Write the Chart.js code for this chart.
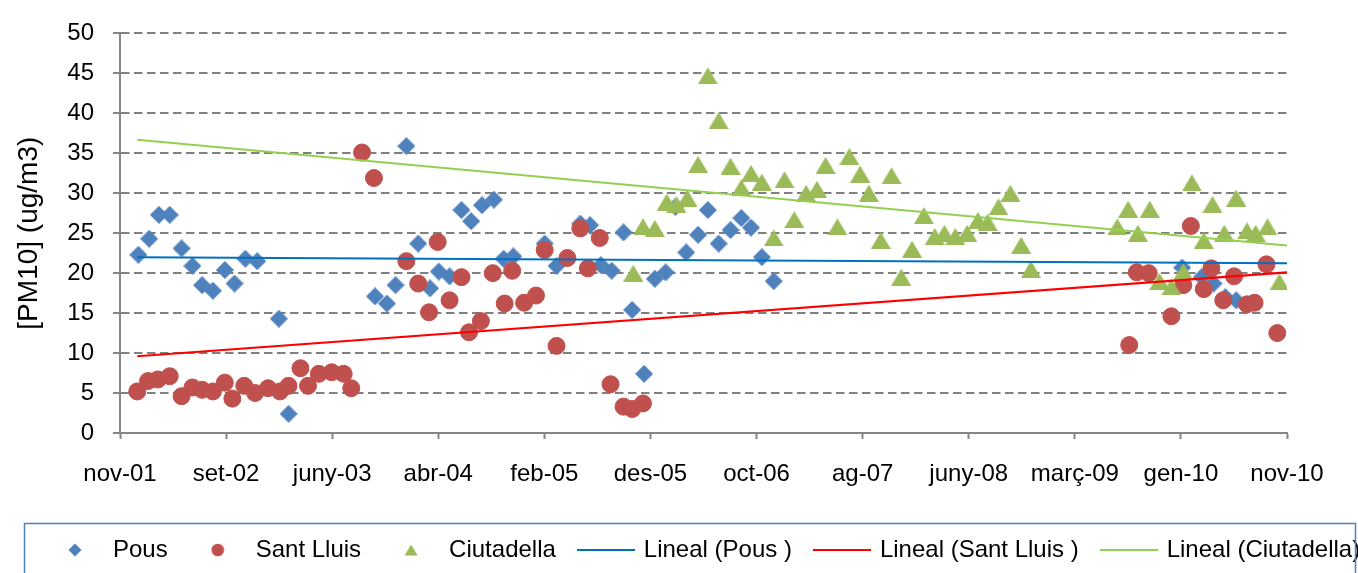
<!DOCTYPE html>
<html>
<head>
<meta charset="utf-8">
<script src="https://cdn.jsdelivr.net/npm/chart.js@4/dist/chart.umd.min.js"></script>
<style>
html,body{margin:0;padding:0;background:#fff;}
canvas{display:block;}
</style>
</head>
<body>
<canvas id="c" width="1358" height="573"></canvas>
<script>
// x values: months since nov-01 (axis runs nov-01 .. nov-10 = 108 months)
const tickLabels = ['nov-01','set-02','juny-03','abr-04','feb-05','des-05','oct-06','ag-07','juny-08','març-09','gen-10','nov-10'];

const pousX = [1.7,2.7,3.6,4.6,5.7,6.7,7.6,8.6,9.7,10.6,11.6,12.7,14.7,15.6,23.6,24.7,25.5,26.5,27.6,28.7,29.5,30.5,31.6,32.5,33.5,34.6,35.5,36.4,39.3,40.4,42.6,43.5,44.5,45.5,46.6,47.4,48.5,49.5,50.5,51.4,52.4,53.5,54.4,55.4,56.5,57.5,58.4,59.4,60.5,98.3,100.1,101.2,102.3,103.3];
const pousY = [22.3,24.3,27.3,27.3,23.1,20.9,18.5,17.8,20.4,18.7,21.8,21.5,14.3,2.4,17.1,16.2,18.5,35.9,23.7,18.1,20.2,19.6,27.9,26.5,28.5,29.2,21.8,22.1,23.7,20.9,26.2,26.0,21.0,20.3,25.1,15.4,7.4,19.3,20.1,28.3,22.6,24.8,27.9,23.7,25.4,26.9,25.7,22.0,19.0,20.7,19.5,18.7,17.0,16.6];

const santX = [1.6,2.6,3.5,4.6,5.7,6.7,7.6,8.6,9.7,10.4,11.5,12.5,13.7,14.8,15.6,16.7,17.4,18.4,19.6,20.7,21.4,22.4,23.5,26.5,27.6,28.6,29.4,30.5,31.6,32.3,33.4,34.5,35.6,36.3,37.4,38.5,39.3,40.4,41.4,42.6,43.3,44.4,45.4,46.6,47.4,48.4,93.4,94.1,95.2,97.3,98.4,99.1,100.3,101.0,102.1,103.1,104.3,105.0,106.1,107.1];
const santY = [5.2,6.5,6.7,7.1,4.6,5.7,5.4,5.2,6.3,4.3,5.9,5.0,5.6,5.2,5.9,8.1,5.9,7.4,7.6,7.4,5.6,35.1,31.9,21.5,18.7,15.1,23.9,16.6,19.5,12.6,14.0,20.0,16.2,20.3,16.3,17.2,22.9,10.9,21.9,25.6,20.6,24.4,6.1,3.3,3.0,3.7,11.0,20.1,20.0,14.6,18.5,25.9,18.0,20.6,16.6,19.6,16.1,16.3,21.1,12.5];

const ciutX = [47.5,48.4,49.5,50.6,51.5,52.5,53.5,54.4,55.4,56.5,57.5,58.4,59.4,60.5,61.5,62.4,63.5,64.5,65.3,66.4,67.5,68.5,69.3,70.4,71.4,72.3,73.3,74.4,75.4,76.3,77.3,78.4,79.4,80.3,81.3,82.4,83.4,84.3,92.3,93.3,94.2,95.3,96.2,97.3,98.4,99.2,100.3,101.1,102.2,103.3,104.3,105.1,106.2,107.3];
const ciutY = [20.0,25.8,25.6,28.9,28.6,29.4,33.6,44.7,39.1,33.4,30.7,32.5,31.4,24.4,31.7,26.7,30.0,30.5,33.5,25.8,34.6,32.4,30.0,24.1,32.2,19.5,23.0,27.2,24.6,25.0,24.6,25.0,26.6,26.4,28.3,30.0,23.5,20.5,25.8,28.0,25.0,28.0,19.0,18.3,20.2,31.3,24.1,28.6,25.0,29.4,25.3,25.0,25.8,18.9];

// linear trend lines (start / end)
const trendX = [1.6, 108];
const pousTrend = [22.0, 21.25];
const santTrend = [9.6, 20.1];
const ciutTrend = [36.7, 23.45];

const seriesNames = ['Pous','Sant Lluis','Ciutadella','Lineal (Pous )','Lineal (Sant Lluis )','Lineal (Ciutadella)'];

const C_POUS = '#4F81BD', C_SANT = '#C0504D', C_CIUT = '#9BBB59';
const C_TP = '#0070C0', C_TS = '#FF0000', C_TC = '#92D050';

function icon(w, h, draw) {
  const c = document.createElement('canvas');
  c.width = w; c.height = h;
  draw(c.getContext('2d'), w, h);
  return c;
}
const diaMarker = icon(18, 18, g => {
  g.fillStyle = C_POUS; g.beginPath();
  g.moveTo(9, 0); g.lineTo(18, 9); g.lineTo(9, 18); g.lineTo(0, 9); g.closePath(); g.fill();
});
const triMarker = icon(20, 17, g => {
  g.fillStyle = C_CIUT; g.beginPath();
  g.moveTo(10, 0); g.lineTo(20, 17); g.lineTo(0, 17); g.closePath(); g.fill();
});
const legendIcons = [
  icon(14, 14, g => { g.fillStyle = C_POUS; g.beginPath(); g.moveTo(7,0.5); g.lineTo(13.5,7); g.lineTo(7,13.5); g.lineTo(0.5,7); g.closePath(); g.fill(); }),
  icon(14, 14, g => { g.fillStyle = C_SANT; g.beginPath(); g.arc(7,7,6.3,0,Math.PI*2); g.fill(); }),
  icon(14, 12, g => { g.fillStyle = C_CIUT; g.beginPath(); g.moveTo(7,0.5); g.lineTo(13.5,11.5); g.lineTo(0.5,11.5); g.closePath(); g.fill(); }),
  icon(58, 4, g => { g.fillStyle = C_TP; g.fillRect(0,1,58,2); }),
  icon(58, 4, g => { g.fillStyle = C_TS; g.fillRect(0,1,58,2); }),
  icon(58, 4, g => { g.fillStyle = C_TC; g.fillRect(0,1,58,2); })
];

const pts = (xs, ys) => xs.map((x, i) => ({x: x, y: ys[i]}));

Chart.defaults.font.family = "'Liberation Sans', Arial, sans-serif";
Chart.defaults.color = '#000';

const legendFrame = {
  id: 'legendFrame',
  beforeLayout(chart) {
    const l = chart.legend;
    if (l && !l.__patched) {
      const f = l.fit;
      l.fit = function () { f.call(this); this.height = 58; };
      l.__patched = true;
    }
  },
  afterLayout(chart) {
    const l = chart.legend;
    if (l) { l.left = 25; l.right = 1420; l.width = l.right - l.left; }
  },
  afterDraw(chart) {
    const ctx = chart.ctx;
    ctx.save();
    ctx.strokeStyle = '#4F81BD';
    ctx.lineWidth = 1.5;
    ctx.strokeRect(24.5, 523.5, 1331, 60);
    ctx.restore();
  }
};

new Chart(document.getElementById('c'), {
  type: 'scatter',
  data: {
    datasets: [
      {label: seriesNames[0], data: pts(pousX, pousY), pointStyle: diaMarker, pointRadius: 9, backgroundColor: C_POUS, borderColor: C_POUS, order: 6},
      {label: seriesNames[1], data: pts(santX, santY), pointStyle: 'circle', pointRadius: 8.5, backgroundColor: C_SANT, borderColor: C_SANT, borderWidth: 1, order: 5},
      {label: seriesNames[2], data: pts(ciutX, ciutY), pointStyle: triMarker, pointRadius: 10, backgroundColor: C_CIUT, borderColor: C_CIUT, order: 4},
      {label: seriesNames[3], data: pts(trendX, pousTrend), showLine: true, pointRadius: 0, borderColor: C_TP, borderWidth: 2, order: 3},
      {label: seriesNames[4], data: pts(trendX, santTrend), showLine: true, pointRadius: 0, borderColor: C_TS, borderWidth: 2.2, order: 2},
      {label: seriesNames[5], data: pts(trendX, ciutTrend), showLine: true, pointRadius: 0, borderColor: C_TC, borderWidth: 2, order: 1}
    ]
  },
  options: {
    responsive: false,
    animation: false,
    events: [],
    layout: {padding: {top: 23, left: 0, right: 0, bottom: 1}},
    plugins: {
      tooltip: {enabled: false},
      legend: {
        position: 'bottom',
        align: 'start',
        labels: {
          usePointStyle: true,
          pointStyleWidth: 52,
          padding: 24,
          color: '#000',
          font: {size: 24},
          generateLabels: chart => chart.data.datasets.map((ds, i) => ({
            text: ds.label, datasetIndex: i, pointStyle: legendIcons[i],
            fillStyle: 'transparent', strokeStyle: 'transparent', lineWidth: 0, hidden: false, fontColor: '#000'
          }))
        }
      }
    },
    scales: {
      x: {
        type: 'linear', min: 0, max: 108,
        afterBuildTicks: s => { s.ticks = tickLabels.map((_, i) => ({value: i * 108 / (tickLabels.length - 1)})); },
        afterFit: s => { s.height = 81; },
        ticks: {autoSkip: false, maxRotation: 0, padding: 21, color: '#000', font: {size: 24}, callback: (v, i) => tickLabels[i]},
        grid: {drawOnChartArea: false, tickLength: 6, tickColor: '#868686', tickWidth: 2},
        border: {color: '#868686', width: 2}
      },
      y: {
        min: 0, max: 50,
        afterFit: s => { s.width = 120; },
        ticks: {stepSize: 5, padding: 19, color: '#000', font: {size: 24}},
        grid: {color: '#808080', lineWidth: 2, tickLength: 7, tickColor: '#868686', tickWidth: 2},
        border: {color: '#868686', width: 2, dash: [8.5, 4.5]},
        title: {display: true, text: '[PM10] (ug/m3)', color: '#000', font: {size: 28}, padding: {top: 12, bottom: 0}}
      },
      yR: {
        position: 'right', display: true,
        afterFit: s => { s.width = 71; },
        grid: {display: false}, ticks: {display: false}, border: {display: false}
      }
    }
  },
  plugins: [legendFrame]
});
</script>
</body>
</html>
